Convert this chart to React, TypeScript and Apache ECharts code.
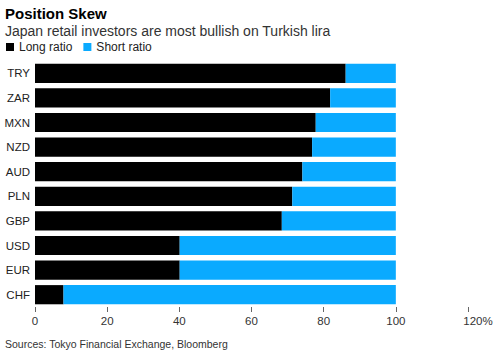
import React, { useEffect, useRef } from "react";
import * as echarts from "echarts";

const categories = ["TRY", "ZAR", "MXN", "NZD", "AUD", "PLN", "GBP", "USD", "EUR", "CHF"];
const longRatio = [86.1, 81.8, 77.8, 76.8, 74.1, 71.3, 68.4, 40.1, 40.1, 7.9];
const shortRatio = [13.9, 18.2, 22.2, 23.2, 25.9, 28.7, 31.6, 59.9, 59.9, 92.1];
const seriesNames = ["Long ratio", "Short ratio"];
const titleText = "Position Skew";
const subtitleText = "Japan retail investors are most bullish on Turkish lira";
const sourceText = "Sources: Tokyo Financial Exchange, Bloomberg";

const FONT = "'Liberation Sans', Arial, sans-serif";

export default function App() {
  const ref = useRef<HTMLDivElement>(null);
  useEffect(() => {
    if (!ref.current) return;
    const chart = echarts.init(ref.current, undefined, { renderer: "svg" });
    chart.setOption({
      animation: false,
      backgroundColor: "#ffffff",
      textStyle: { fontFamily: FONT },
      title: [
        {
          text: titleText,
          left: 5,
          top: 6,
          padding: 0,
          textStyle: { fontSize: 15, fontWeight: "bold", color: "#000", fontFamily: FONT },
        },
        {
          text: subtitleText,
          left: 5,
          top: 24,
          padding: 0,
          textStyle: { fontSize: 14, fontWeight: "normal", color: "#333", fontFamily: FONT },
        },
        {
          text: sourceText,
          left: 5,
          top: 338,
          padding: 0,
          textStyle: { fontSize: 10.5, fontWeight: "normal", color: "#333", fontFamily: FONT },
        },
      ],
      legend: {
        data: seriesNames,
        left: 6,
        top: 41,
        padding: 0,
        icon: "rect",
        itemWidth: 8,
        itemHeight: 8,
        itemGap: 11,
        textStyle: { fontSize: 12, color: "#222", fontFamily: FONT, padding: [0, 0, 0, 0] },
      },
      grid: { left: 35, right: 32, top: 61, bottom: 46, containLabel: false },
      xAxis: {
        type: "value",
        min: 0,
        max: 120,
        interval: 20,
        axisLine: { show: false },
        axisTick: { show: true, length: 5, lineStyle: { color: "#666" } },
        splitLine: { show: false },
        axisLabel: {
          color: "#333",
          fontSize: 11.5,
          margin: 8,
          formatter: (v: number) => (v === 120 ? "{p|120%}" : String(v)),
          rich: {
            p: { color: "#333", fontSize: 11.5, fontFamily: FONT, padding: [0, 0, 0, 20] },
          },
        },
      },
      yAxis: {
        type: "category",
        data: categories,
        inverse: true,
        axisLine: { show: false },
        axisTick: { show: false },
        axisLabel: { color: "#222", fontSize: 11.5, margin: 5 },
      },
      series: [
        {
          name: seriesNames[0],
          type: "bar",
          stack: "total",
          data: longRatio,
          itemStyle: { color: "#000000" },
          barCategoryGap: "22%",
        },
        {
          name: seriesNames[1],
          type: "bar",
          stack: "total",
          data: shortRatio,
          itemStyle: { color: "#0aaaff" },
          barCategoryGap: "22%",
        },
      ],
    });
    return () => chart.dispose();
  }, []);
  return (
    <div
      ref={ref}
      style={{ position: "fixed", left: 0, top: 0, width: 500, height: 353 }}
    />
  );
}
